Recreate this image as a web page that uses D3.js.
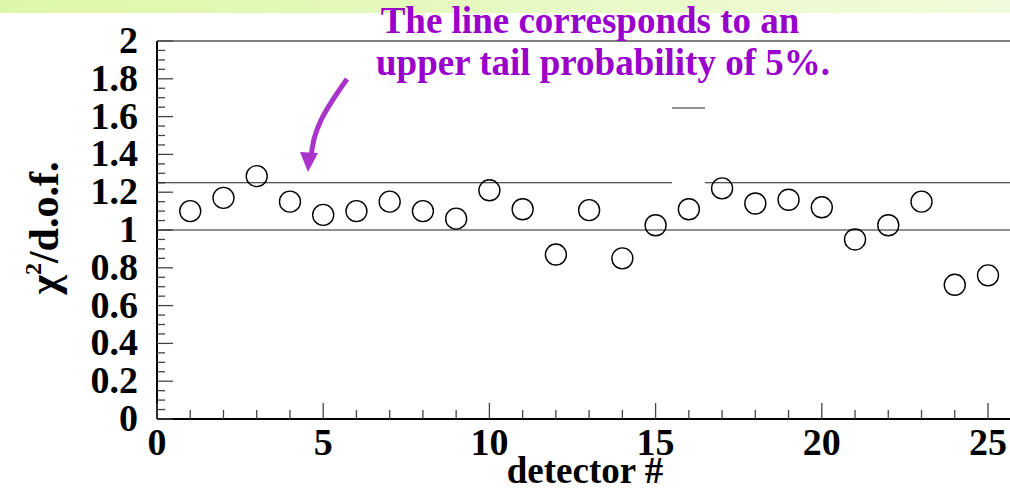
<!DOCTYPE html>
<html><head><meta charset="utf-8">
<script src="https://cdn.jsdelivr.net/npm/d3@7"></script>
<style>body{margin:0;background:#fff}svg{display:block}text{font-family:"Liberation Serif",serif;font-weight:bold}</style>
</head><body>
<script>
var detectors = [1,2,3,4,5,6,7,8,9,10,11,12,13,14,15,16,17,18,19,20,21,22,23,24,25];
var chi2 = [1.10,1.17,1.285,1.15,1.08,1.10,1.15,1.10,1.06,1.21,1.11,0.87,1.105,0.85,1.025,1.11,1.22,1.14,1.16,1.12,0.95,1.025,1.15,0.71,0.76];
var yTicks = [0,0.2,0.4,0.6,0.8,1,1.2,1.4,1.6,1.8,2];
var xTicks = [0,5,10,15,20,25];
var cut95 = 1.25, unity = 1.0;

var W = 1010, H = 492;
var svg = d3.select("body").append("svg").attr("width", W).attr("height", H);

var grad = svg.append("defs").append("linearGradient").attr("id","g");
grad.append("stop").attr("offset","0").attr("stop-color","#ddf7a8");
grad.append("stop").attr("offset","1").attr("stop-color","#f1fbdc");
svg.append("rect").attr("width",W).attr("height",13).attr("fill","url(#g)");

var x = d3.scaleLinear().domain([0,25]).range([157,988]);
var y = d3.scaleLinear().domain([0,2]).range([419,41]);

var g = svg.append("g").attr("stroke","#000").attr("stroke-width",1.3);
g.append("line").attr("x1",157).attr("x2",W).attr("y1",y(0)).attr("y2",y(0)).attr("stroke-width",2);
g.append("line").attr("x1",157).attr("x2",157).attr("y1",y(0)).attr("y2",y(2)).attr("stroke-width",2);
g.append("line").attr("x1",157).attr("x2",W).attr("y1",y(2)).attr("y2",y(2)).attr("stroke","#555");

// ticks
d3.range(0,2.0001,0.05).forEach(function(v){
  var major = Math.abs(v*5-Math.round(v*5))<1e-6;
  g.append("line").attr("x1",157).attr("x2",157+(major?16:8)).attr("y1",y(v)).attr("y2",y(v)).attr("stroke","#444");
});
d3.range(0,27).forEach(function(v){
  g.append("line").attr("x1",x(v)).attr("x2",x(v)).attr("y1",y(0)).attr("y2",y(0)-(v%5==0?16:9)).attr("stroke","#444");
});

var lab = svg.append("g").attr("font-size",38);
yTicks.forEach(function(v){
  lab.append("text").attr("x",138).attr("y",y(v)+12).attr("text-anchor","end").text(d3.format("")(v));
});
xTicks.forEach(function(v){
  lab.append("text").attr("x",x(v)).attr("y",455).attr("text-anchor","middle").text(v);
});
svg.append("text").attr("x",585).attr("y",483).attr("text-anchor","middle").attr("font-size",37).text("detector #");
var yl = svg.append("text").attr("transform","translate(58,228) rotate(-90)").attr("text-anchor","middle").attr("font-size",42);
yl.append("tspan").text("\u03c7");
yl.append("tspan").attr("font-size",24).attr("dy",-17).text("2");
yl.append("tspan").attr("dy",17).text("/d.o.f.");

// reference lines
var rl = svg.append("g").attr("stroke","#222").attr("stroke-width",1.2);
rl.append("line").attr("x1",157).attr("x2",W).attr("y1",y(unity)).attr("y2",y(unity));
rl.append("line").attr("x1",157).attr("x2",672).attr("y1",y(cut95)).attr("y2",y(cut95));
rl.append("line").attr("x1",705).attr("x2",W).attr("y1",y(cut95)).attr("y2",y(cut95));
rl.append("line").attr("x1",672).attr("x2",705).attr("y1",108).attr("y2",108);

svg.append("g").selectAll("circle").data(detectors).enter().append("circle")
  .attr("cx",function(d){return x(d);})
  .attr("cy",function(d,i){return y(chi2[i]);})
  .attr("r",10.5).attr("fill","none").attr("stroke","#000").attr("stroke-width",1.4);

// annotation
var ann = svg.append("g").attr("fill","#9900cc").attr("font-size",37).attr("text-anchor","middle");
ann.append("text").attr("x",590).attr("y",33).text("The line corresponds to an");
ann.append("text").attr("x",603).attr("y",75).text("upper tail probability of 5%.");
svg.append("path").attr("d","M347,79 C325,110 312,130 311,160").attr("fill","none").attr("stroke","#aa33cc").attr("stroke-width",5);
svg.append("path").attr("d","M300,152 L308,172 L318,153 Z").attr("fill","#aa33cc");
</script>
</body></html>
